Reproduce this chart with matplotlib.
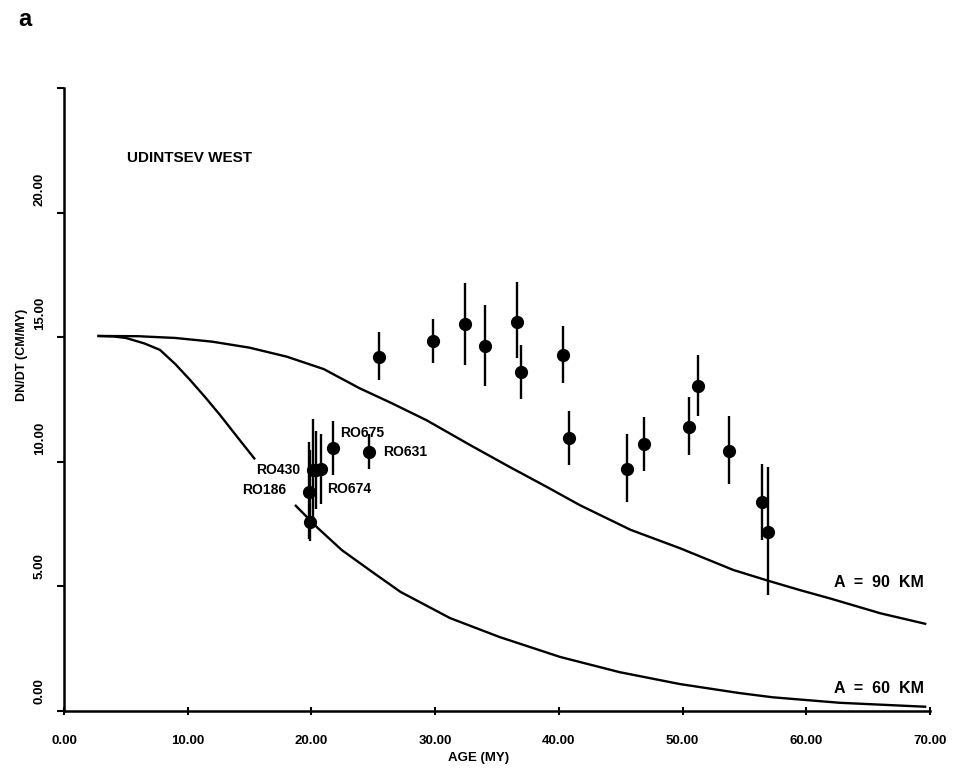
import numpy as np
import matplotlib
matplotlib.use("Agg")
import matplotlib.pyplot as plt
from matplotlib.transforms import ScaledTranslation

# ---------------- data ----------------
# observed points (age in MY, dN/dt in CM/MY) with lower / upper error bar lengths
age = [25.5, 29.8, 32.44, 34.0, 36.65, 36.95, 40.36, 40.85, 45.48, 46.91,
       50.52, 51.28, 53.78, 56.4, 56.88,
       21.77, 24.66, 20.1, 20.4, 20.75, 19.8, 19.9]
rate = [14.22, 14.83, 15.52, 14.64, 15.62, 13.59, 14.28, 10.94, 9.73, 10.70,
        11.41, 13.04, 10.44, 8.37, 7.20,
        10.54, 10.41, 9.67, 9.67, 9.70, 8.80, 7.59]
err_lo = [0.95, 0.85, 1.65, 1.6, 1.45, 1.05, 1.1, 1.05, 1.35, 1.05,
          1.15, 1.2, 1.35, 1.5, 2.55,
          1.05, 0.7, 2.05, 1.55, 1.4, 1.9, 0.75]
err_hi = [1.0, 0.9, 1.65, 1.65, 1.6, 1.1, 1.15, 1.1, 1.4, 1.1,
          1.2, 1.25, 1.4, 1.55, 2.6,
          1.1, 0.7, 2.05, 1.55, 1.4, 2.0, 2.9]

# sample labels
sample_names = ["RO430", "RO186", "RO674", "RO675", "RO631"]
sample_x = [19.1, 18.0, 21.3, 22.3, 25.8]
sample_y = [9.67, 8.87, 8.9, 11.14, 10.41]
sample_ha = ["right", "right", "left", "left", "left"]

# model curves
a90_x = [2.7, 6.0, 9.0, 12.0, 15.0, 18.0, 21.0, 23.9, 26.5, 29.3, 32.8,
         36.0, 39.0, 41.7, 45.8, 49.8, 54.1, 56.9, 59.5, 61.9, 66.0, 69.7]
a90_y = [15.05, 15.04, 14.97, 14.82, 14.58, 14.22, 13.72, 12.95, 12.35,
         11.67, 10.68, 9.8, 9.0, 8.26, 7.27, 6.53, 5.66, 5.23, 4.85, 4.52,
         3.92, 3.49]

a60_x = [2.7, 4.0, 5.0, 6.5, 7.76, 9.0, 10.2, 11.4, 12.61, 14.0, 15.44,
         np.nan,
         18.67, 20.5, 22.45, 25.0, 27.2, 31.2, 35.2, 40.1, 44.9, 49.8, 54.6,
         57.3, 62.7, 69.7]
a60_y = [15.05, 15.03, 14.97, 14.75, 14.49, 13.92, 13.28, 12.6, 11.88,
         11.0, 10.10,
         np.nan,
         8.27, 7.35, 6.46, 5.55, 4.78, 3.73, 2.97, 2.17, 1.56, 1.08, 0.72,
         0.55, 0.33, 0.17]

xticks = [0, 10, 20, 30, 40, 50, 60, 70]
xtick_labels = ["0.00", "10.00", "20.00", "30.00", "40.00", "50.00", "60.00", "70.00"]
yticks = [0, 5, 10, 15, 20, 25]
ytick_labels = ["0.00", "5.00", "10.00", "15.00", "20.00", ""]

# ---------------- figure ----------------
plt.rcParams['font.family'] = ['Liberation Sans', 'DejaVu Sans']
plt.rcParams['font.weight'] = 'bold'

fig = plt.figure(figsize=(9.58, 7.68), dpi=100)
ax = fig.add_axes([0.0668, 0.0742, 0.904, 0.8112])

ax.plot(a90_x, a90_y, color='black', lw=1.7, solid_capstyle='butt')
ax.plot(a60_x, a60_y, color='black', lw=1.7, solid_capstyle='butt')

ax.errorbar(age, rate, yerr=[err_lo, err_hi], fmt='o', color='black',
            ms=8.5, elinewidth=1.7, capsize=0, zorder=3)

for name, sx, sy, ha in zip(sample_names, sample_x, sample_y, sample_ha):
    ax.text(sx, sy, name, ha=ha, va='center', fontsize=10, fontweight='bold')

ax.text(5.1, 22.19, "UDINTSEV WEST", ha='left', va='center', fontsize=11,
        fontweight='bold')
ax.text(62.2, 5.14, "A  =  90  KM", ha='left', va='center', fontsize=11.5,
        fontweight='bold')
ax.text(62.2, 0.92, "A  =  60  KM", ha='left', va='center', fontsize=11.5,
        fontweight='bold')

ax.set_xlim(0, 70)
ax.set_ylim(0, 25)
ax.set_xticks(xticks)
ax.set_xticklabels(xtick_labels, fontsize=9.5, fontweight='bold')
ax.set_yticks(yticks)
ax.set_yticklabels(ytick_labels, fontsize=9.5, fontweight='bold',
                   rotation=90, va='bottom')
ax.tick_params(axis='x', direction='inout', length=6, width=1.5, pad=14)
ax.tick_params(axis='y', direction='out', length=5, width=1.5, pad=8)

shift = ScaledTranslation(0, 7 / 100.0, fig.dpi_scale_trans)
for lab in ax.get_yticklabels():
    lab.set_transform(lab.get_transform() + shift)

for s in ['top', 'right']:
    ax.spines[s].set_visible(False)
for s in ['left', 'bottom']:
    ax.spines[s].set_linewidth(1.8)

fig.text(0.023, 0.538, "DN/DT (CM/MY)", rotation=90, ha='center',
         va='center', fontsize=9, fontweight='bold')
fig.text(0.5, 0.013, "AGE (MY)", ha='center', va='center', fontsize=9.5,
         fontweight='bold')
fig.text(0.019, 0.974, "a", ha='left', va='center', fontsize=17,
         fontweight='bold')

fig.savefig("out.png", dpi=100)
